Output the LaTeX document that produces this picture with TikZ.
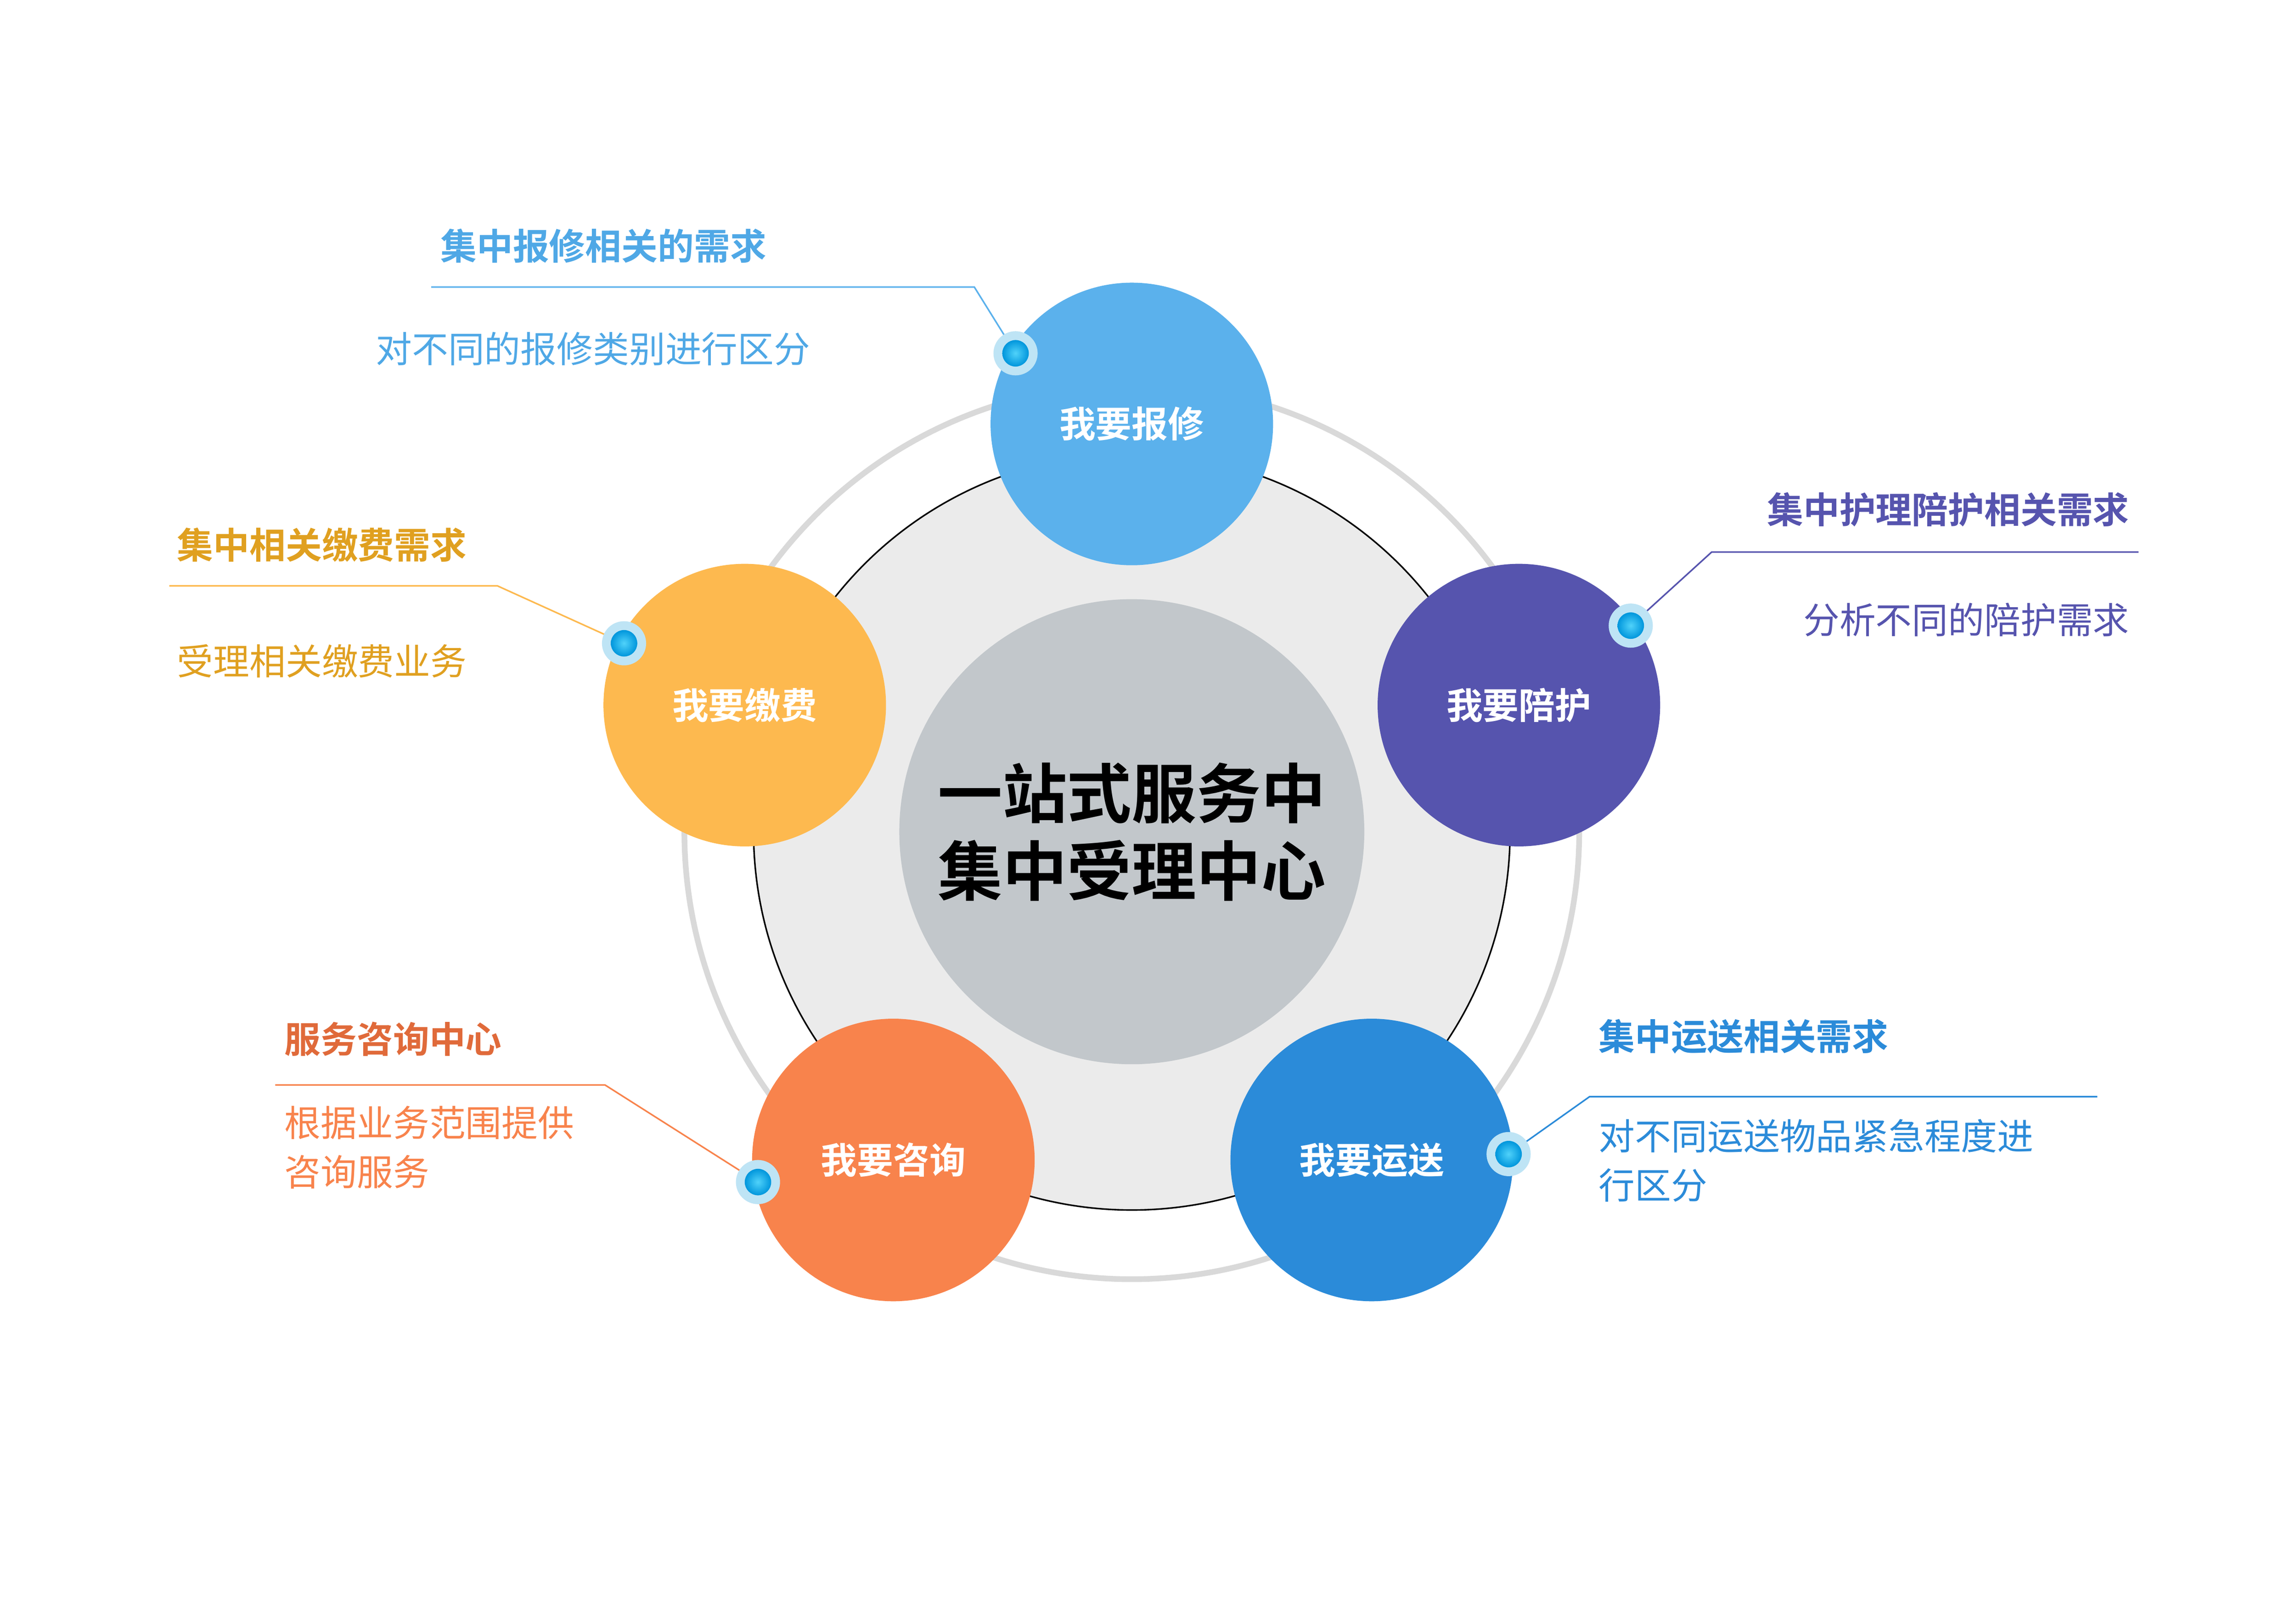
\documentclass[tikz,border=0pt]{standalone}
\usepackage{fontspec}
\newfontfamily\cjk{Noto Sans CJK SC}
\newfontfamily\cjkb{Noto Sans CJK SC Bold}
\definecolor{cA}{HTML}{5BB1EC}
\definecolor{cB}{HTML}{5654AE}
\definecolor{cC}{HTML}{2B8BD9}
\definecolor{cD}{HTML}{F8834C}
\definecolor{cE}{HTML}{FDB94F}
\definecolor{tA}{HTML}{4FA8E6}
\definecolor{tE}{HTML}{E0A020}
\definecolor{tD}{HTML}{E06A3A}
\definecolor{ctrc}{HTML}{C2C7CB}
\definecolor{halo}{HTML}{BEE4F5}
\definecolor{dotin}{HTML}{50D2FA}
\definecolor{dotout}{HTML}{0096DC}
\begin{document}
\begin{tikzpicture}[x=0.02cm,y=-0.02cm,
 sat/.style={circle,minimum size=3.84cm,inner sep=0,font=\cjkb\fontsize{14}{16}\selectfont,text=white},
 ttl/.style={font=\cjkb\fontsize{14}{16}\selectfont,inner sep=0},
 dsc/.style={font=\cjk\fontsize{14}{19}\selectfont,inner sep=0,align=left},
 ln/.style={line width=0.6pt}]
\useasboundingbox (0,0) rectangle (1560,1103);
\fill[white] (0,0) rectangle (1560,1103);
\draw[line width=2.2pt,color=black!15] (769,565) circle[radius=304];
\draw[fill=black!8,line width=0.6pt] (769,565) circle[radius=257];
\node[circle,fill=ctrc,minimum size=6.32cm,inner sep=0,align=center,font=\cjkb\fontsize{25}{30}\selectfont] (ctr) at (769,565) {一站式服务中\\集中受理中心};
\node[sat,fill=cA] (a) at (769,288) {我要报修};
\node[sat,fill=cB] (b) at (1032,479) {我要陪护};
\node[sat,fill=cC] (c) at (932,788) {我要运送};
\node[sat,fill=cD] (d) at (607,788) {我要咨询};
\node[sat,fill=cE] (e) at (506,479) {我要缴费};
\coordinate (a1) at (662,195); \coordinate (a2) at (293,195);
\coordinate (b1) at (1163,375); \coordinate (b2) at (1453,375);
\coordinate (c1) at (1080,745); \coordinate (c2) at (1425,745);
\coordinate (d1) at (411,737); \coordinate (d2) at (187,737);
\coordinate (e1) at (338,398); \coordinate (e2) at (115,398);
\coordinate (da) at (690,240);
\coordinate (db) at (1108,425);
\coordinate (dc) at (1025,784);
\coordinate (dd) at (515,803);
\coordinate (de) at (424,437);
\draw[ln,cA] (da) -- (a1) -- (a2);
\draw[ln,cB] (db) -- (b1) -- (b2);
\draw[ln,cC] (dc) -- (c1) -- (c2);
\draw[ln,cD] (dd) -- (d1) -- (d2);
\draw[ln,cE] (de) -- (e1) -- (e2);
\foreach \n in {da,db,dc,dd,de}{
 \fill[halo] (\n) circle[radius=15];
 \shade[inner color=dotin,outer color=dotout] (\n) circle[radius=9];}
\node[ttl,anchor=west,text=tA] (ta) at (299,167) {集中报修相关的需求};
\node[dsc,anchor=west,text=tA] (xa) at (255,237) {对不同的报修类别进行区分};
\node[ttl,anchor=east,text=cB] (tb) at (1447,346) {集中护理陪护相关需求};
\node[dsc,anchor=east,text=cB] (xb) at (1447,421) {分析不同的陪护需求};
\node[ttl,anchor=west,text=cC] (tc) at (1086,704) {集中运送相关需求};
\node[dsc,anchor=north west,text=cC] (xc) at (1086,760) {对不同运送物品紧急程度进\\行区分};
\node[ttl,anchor=west,text=tD] (td) at (193,706) {服务咨询中心};
\node[dsc,anchor=north west,text=cD] (xd) at (193,751) {根据业务范围提供\\咨询服务};
\node[ttl,anchor=west,text=tE] (te) at (120,370) {集中相关缴费需求};
\node[dsc,anchor=west,text=tE] (xe) at (120,449) {受理相关缴费业务};
\end{tikzpicture}
\end{document}
